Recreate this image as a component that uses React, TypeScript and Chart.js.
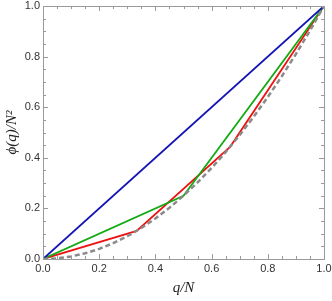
import React, { useEffect, useRef } from "react";
import { Chart, registerables } from "chart.js";

Chart.register(...registerables);

const blueX = [0, 1];
const blueY = [0, 1];
const greenX = [0, 0.5, 1];
const greenY = [0, 0.25, 1];
const redX = [0, 0.3333, 0.6667, 1];
const redY = [0, 0.1111, 0.4444, 1];
const grayX = [0, 0.05, 0.1, 0.15, 0.2, 0.25, 0.3, 0.35, 0.4, 0.45, 0.5, 0.55, 0.6, 0.65, 0.7, 0.75, 0.8, 0.85, 0.9, 0.95, 1];
const grayY = [0, 0.0025, 0.01, 0.0225, 0.04, 0.0625, 0.09, 0.1225, 0.16, 0.2025, 0.25, 0.3025, 0.36, 0.4225, 0.49, 0.5625, 0.64, 0.7225, 0.81, 0.9025, 1];
const xTitle = "q/N";
const yTitle = "ϕ(q)/N²";

const pts = (xs: number[], ys: number[]) => xs.map((x, i) => ({ x, y: ys[i] }));

const framePlugin = {
  id: "frame",
  afterDraw(chart: any) {
    const { ctx, chartArea: a, scales } = chart;
    const xs = scales.x, ys = scales.y;
    ctx.save();
    ctx.strokeStyle = "#9a9a9a";
    ctx.lineWidth = 1;
    ctx.strokeRect(Math.round(a.left) + 0.5, Math.round(a.top) + 0.5, Math.round(a.right - a.left), Math.round(a.bottom - a.top));
    ctx.beginPath();
    for (let i = 0; i <= 20; i++) {
      const v = i * 0.05;
      const len = i % 4 === 0 ? 5 : 3;
      const px = Math.round(xs.getPixelForValue(v)) + 0.5;
      ctx.moveTo(px, a.bottom); ctx.lineTo(px, a.bottom - len);
      ctx.moveTo(px, a.top); ctx.lineTo(px, a.top + len);
      const py = Math.round(ys.getPixelForValue(v)) + 0.5;
      ctx.moveTo(a.left, py); ctx.lineTo(a.left + len, py);
      ctx.moveTo(a.right, py); ctx.lineTo(a.right - len, py);
    }
    ctx.stroke();
    ctx.fillStyle = "#222";
    ctx.font = "italic 15px 'Liberation Serif'";
    ctx.textAlign = "center";
    ctx.textBaseline = "middle";
    ctx.fillText(xTitle, (a.left + a.right) / 2, 288);
    ctx.translate(12, (a.top + a.bottom) / 2);
    ctx.rotate(-Math.PI / 2);
    ctx.fillText(yTitle, 0, 0);
    ctx.restore();
  },
};

export default function App() {
  const ref = useRef<HTMLCanvasElement>(null);
  useEffect(() => {
    document.body.style.margin = "0";
    const chart = new Chart(ref.current!, {
      type: "line",
      data: {
        datasets: [
          { data: pts(grayX, grayY), borderColor: "#8a8a8a", borderWidth: 2.5, borderDash: [5, 3], pointRadius: 0, fill: false },
          { data: pts(blueX, blueY), borderColor: "#1414b4", borderWidth: 1.8, pointRadius: 0, fill: false },
          { data: pts(greenX, greenY), borderColor: "#14aa14", borderWidth: 1.8, pointRadius: 0, fill: false },
          { data: pts(redX, redY), borderColor: "#ee1111", borderWidth: 1.8, pointRadius: 0, fill: false },
        ],
      },
      options: {
        responsive: false,
        animation: false,
        layout: { padding: { top: 6, right: 8, left: 0, bottom: 0 } },
        plugins: { legend: { display: false }, tooltip: { enabled: false } },
        scales: {
          x: {
            type: "linear", min: 0, max: 1,
            grid: { display: false, drawTicks: false },
            border: { display: false },
            ticks: { stepSize: 0.2, padding: 3, color: "#333", font: { family: "'Liberation Sans'", size: 11 }, callback: (v: any) => Number(v).toFixed(1), maxRotation: 0, autoSkip: false },
            afterFit: (s: any) => { s.height = 42; s.paddingRight = 0; s.paddingLeft = 0; },
          },
          y: {
            type: "linear", min: 0, max: 1,
            grid: { display: false, drawTicks: false },
            border: { display: false },
            ticks: { stepSize: 0.2, padding: 3, color: "#333", font: { family: "'Liberation Sans'", size: 11 }, callback: (v: any) => Number(v).toFixed(1) },
            afterFit: (s: any) => { s.width = 43; s.paddingTop = 0; s.paddingBottom = 0; },
          },
        },
      },
      plugins: [framePlugin],
    } as any);
    return () => chart.destroy();
  }, []);
  return <canvas ref={ref} width={332} height={301} style={{ display: "block" }} />;
}
